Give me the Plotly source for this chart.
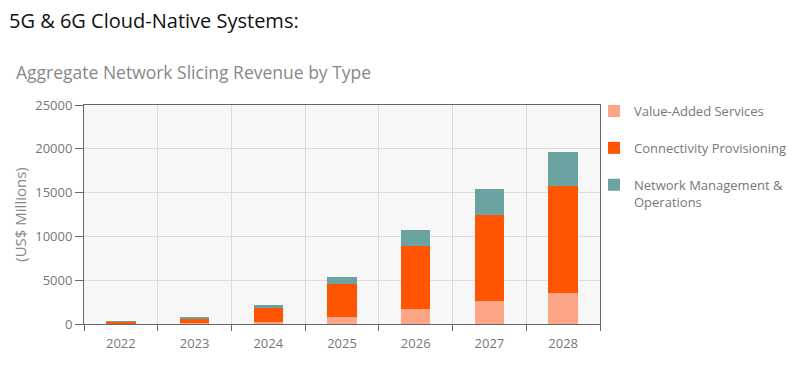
import plotly.graph_objects as go

years = ["2022", "2023", "2024", "2025", "2026", "2027", "2028"]
value_added = [30, 80, 250, 760, 1700, 2650, 3550]
connectivity = [220, 580, 1580, 3770, 7200, 9850, 12200]
network_mgmt = [30, 150, 340, 870, 1800, 2900, 3850]

series = [
    ("Value-Added Services", value_added, "#fda587"),
    ("Connectivity Provisioning", connectivity, "#ff5500"),
    ("Network Management &<br>Operations", network_mgmt, "#6aa3a0"),
]

fig = go.Figure()
for i, (name, vals, color) in enumerate(series):
    fig.add_trace(go.Bar(x=years, y=vals, name=name, legendgroup=f"g{i}",
                         marker=dict(color=color, line=dict(width=0)), width=0.4))

font_family = "Open Sans, sans-serif"
# page body has an 8px margin; figure sized/offset to compensate
W, H = 798, 359
L, T, B = 76, 97, 43
PW, PH = 516, 219
R = W - L - PW

fig.update_layout(
    barmode="stack",
    width=W, height=H,
    margin=dict(l=L, r=R, t=T, b=B, autoexpand=False),
    paper_bgcolor="white",
    plot_bgcolor="#f7f7f7",
    font=dict(family=font_family, color="#777", size=13),
    showlegend=True,
    legend=dict(x=1 - 6 / PW, y=1 + 9 / PH, xanchor="left", yanchor="top", traceorder="grouped",
                font=dict(size=13, color="#777"), itemwidth=30, tracegroupgap=17,
                valign="top", bgcolor="rgba(0,0,0,0)"),
    annotations=[
        dict(text="5G & 6G Cloud-Native Systems:", xref="paper", yref="paper",
             x=-L / PW, y=1 + (T - 12) / PH, borderpad=0,
             showarrow=False, xanchor="left", yanchor="middle",
             font=dict(size=20, color="#111", family=font_family)),
        dict(text="Aggregate Network Slicing Revenue by Type", xref="paper", yref="paper",
             x=-(L - 6) / PW, y=1 + (T - 50) / PH, showarrow=False,
             xanchor="left", yanchor="top", font=dict(size=17.5, color="#888", family=font_family)),
    ],
)

fig.update_xaxes(type="category", tickson="boundaries", showgrid=True, gridcolor="#dcdcdc",
                 ticks="outside", ticklen=6, tickcolor="#666", showline=True, linecolor="#666",
                 mirror=True, tickfont=dict(size=13, color="#777"), ticklabelstandoff=7)
fig.update_yaxes(range=[0, 25000], dtick=5000, tickformat="d", showgrid=True, gridcolor="#dcdcdc",
                 ticks="outside", ticklen=8, tickcolor="#666", showline=True, linecolor="#666",
                 mirror=True, tickfont=dict(size=13, color="#777"), zeroline=False,
                 title=dict(text="(US$ Millions)", font=dict(size=15, color="#888"), standoff=4))

fig.write_html("out.html")
